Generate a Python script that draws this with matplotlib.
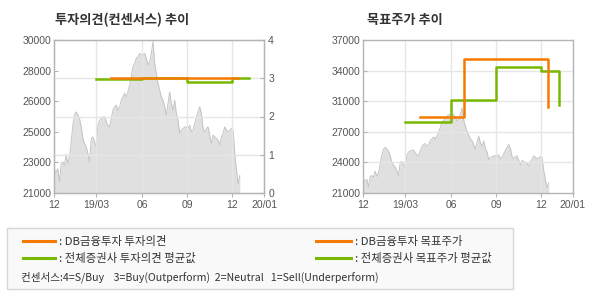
import numpy as np
import pandas as pd
import matplotlib
matplotlib.use("Agg")
import matplotlib.pyplot as plt
import matplotlib.dates as mdates
from matplotlib.patches import Rectangle
from matplotlib.lines import Line2D

plt.rcParams['font.family'] = ['Noto Sans CJK KR', 'DejaVu Sans']

# ---------------- data ----------------
price_start = "2018-12-06"
price_end = "2019-12-16"
price = [22340, 22240, 22430, 21650, 22730, 22830, 22630, 23280, 22730, 23120,
         24010, 24990, 25580, 25770, 25580, 25380, 24890, 24200, 23910, 23710,
         23320, 22830, 24200, 24300, 24010, 23710, 24990, 25280, 25380, 25480,
         25480, 25190, 24990, 24890, 25380, 25870, 26070, 26170, 25870, 26070,
         26460, 26660, 26860, 26660, 26950, 27350, 27840, 28430, 28620, 28920,
         29020, 29210, 29120, 29120, 29210, 28920, 28530, 28720, 29210, 29900,
         28620, 28030, 27450, 27050, 26660, 26460, 26070, 25580, 26270, 26950,
         26270, 25870, 26460, 25680, 25280, 24500, 24690, 24790, 24890, 24890,
         24790, 24990, 24600, 24690, 25090, 25480, 25770, 26070, 25680, 24790,
         24600, 24790, 24890, 24400, 23910, 24400, 24300, 24200, 24100, 23810,
         24300, 24500, 24890, 24690, 24600, 24690, 24790, 24690, 23320, 22340,
         21550, 22040]

opinion_avg_dates = ["2019-03-01", "2019-06-02", "2019-09-01", "2019-12-01", "2020-01-04"]
opinion_avg = [2.97, 3.0, 2.9, 3.0, 3.0]
opinion_db_dates = ["2019-03-30", "2019-12-13"]
opinion_db = [3.0, 3.0]

target_avg_dates = ["2019-02-28", "2019-06-01", "2019-09-01", "2019-12-01", "2020-01-05", "2020-01-05"]
target_avg = [28400, 30700, 34150, 33750, 33750, 30200]
target_db_dates = ["2019-03-30", "2019-06-27", "2019-12-14", "2019-12-14"]
target_db = [29000, 35000, 35000, 30000]

x_start, x_end = "2018-12-05", "2020-02-03"
xtick_dates = ["2018-12-05", "2019-03-01", "2019-06-01", "2019-09-01", "2019-12-01", "2020-02-03"]
xtick_labels = ["12", "19/03", "06", "09", "12", "20/01"]

left_price_ticks = [21000, 22800, 24600, 26400, 28200, 30000]
left_price_labels = ["21000", "23000", "25000", "26000", "28000", "30000"]
opinion_ticks = [0, 1, 2, 3, 4]
right_price_ticks = [21000, 24200, 27400, 30600, 33800, 37000]
right_price_labels = ["21000", "24000", "27000", "31000", "34000", "37000"]

legend_labels = [": DB금융투자 투자의견", ": 전체증권사 투자의견 평균값",
                 ": DB금융투자 목표주가", ": 전체증권사 목표주가 평균값"]
consensus_note = "컨센서스:4=S/Buy    3=Buy(Outperform)  2=Neutral   1=Sell(Underperform)"
titles = ["투자의견(컨센서스) 추이", "목표주가 추이"]

# ---------------- style ----------------
ORANGE = "#f77a00"
GREEN = "#78b800"
AREA = "#e0e0e0"
AREA_LINE = "#c4c4c4"
GRID = "#e6e6e6"
SPINE = "#b4b4b4"
TXT = "#555555"
TICKFONT = dict(family=['Liberation Sans', 'DejaVu Sans'], size=7.5, color=TXT)

price_dates = pd.date_range(price_start, price_end, periods=len(price))
to_dt = lambda l: pd.to_datetime(l)

fig = plt.figure(figsize=(5.9, 3.0), dpi=100)
fig.patch.set_facecolor("white")

def style_axes(ax):
    for s in ax.spines.values():
        s.set_color(SPINE)
        s.set_linewidth(1.0)
    ax.set_xlim(to_dt(x_start), to_dt(x_end))
    ax.set_xticks(to_dt(xtick_dates))
    ax.set_xticklabels(xtick_labels, **TICKFONT)
    ax.tick_params(axis='x', direction='out', length=3, color=SPINE, pad=2)
    ax.tick_params(axis='y', direction='in', length=3, color=SPINE, pad=2)
    for d in xtick_dates[1:-1]:
        ax.axvline(to_dt(d), color=GRID, lw=1.0, zorder=1.5)

# ---- left chart ----
axL = fig.add_axes([54/590, 1-193/300, 210/590, 153/300])
style_axes(axL)
axL.fill_between(price_dates, 21000, price, color=AREA, lw=0, zorder=1)
axL.plot(price_dates, price, color=AREA_LINE, lw=0.7, zorder=1.2)
axL.set_ylim(21000, 30000)
axL.set_yticks(left_price_ticks)
axL.set_yticklabels(left_price_labels, **TICKFONT)
axR = axL.twinx()
axR.set_ylim(0, 4)
axR.set_yticks(opinion_ticks)
axR.set_yticklabels([str(t) for t in opinion_ticks], **TICKFONT)
axR.tick_params(axis='y', direction='in', length=3, color=SPINE, pad=3)
for s in axR.spines.values():
    s.set_color(SPINE)
for t in opinion_ticks[1:-1]:
    axR.axhline(t, color=GRID, lw=1.0, zorder=0.5)
axR.plot(to_dt(opinion_avg_dates), opinion_avg, drawstyle='steps-post', color=GREEN, lw=1.8, zorder=3)
axR.plot(to_dt(opinion_db_dates), opinion_db, drawstyle='steps-post', color=ORANGE, lw=1.8, zorder=4)
fig.text(55/590, 1-20/300, titles[0], fontsize=9.5, fontweight='bold', color="#333333", va='center', ha='left')

# ---- right chart ----
ax2 = fig.add_axes([363/590, 1-193/300, 210/590, 153/300])
style_axes(ax2)
ax2.fill_between(price_dates, 21000, price, color=AREA, lw=0, zorder=1)
ax2.plot(price_dates, price, color=AREA_LINE, lw=0.7, zorder=1.2)
ax2.set_ylim(21000, 37000)
ax2.set_yticks(right_price_ticks)
ax2.set_yticklabels(right_price_labels, **TICKFONT)
for t in right_price_ticks[1:-1]:
    ax2.axhline(t, color=GRID, lw=1.0, zorder=1.5)
ax2.plot(to_dt(target_avg_dates), target_avg, drawstyle='steps-post', color=GREEN, lw=1.8, zorder=3)
ax2.plot(to_dt(target_db_dates), target_db, drawstyle='steps-post', color=ORANGE, lw=1.8, zorder=4)
fig.text(367/590, 1-20/300, titles[1], fontsize=9.5, fontweight='bold', color="#333333", va='center', ha='left')

# ---- legend box ----
W, H = 590, 300
fig.patches.append(Rectangle((7/W, 1-289/H), 506/W, 61/H, transform=fig.transFigure,
                             facecolor="#f9f9f9", edgecolor="#d6d6d6", lw=1.0))
rows_y = [241, 258]
cols = [(23, 55, 59), (316, 351, 355)]
colors = [ORANGE, GREEN]
k = 0
for ci, (x0, x1, xt) in enumerate(cols):
    for ri, yy in enumerate(rows_y):
        fig.lines.append(Line2D([x0/W, x1/W], [1-yy/H, 1-yy/H], transform=fig.transFigure,
                                color=colors[ri], lw=2.2))
        fig.text(xt/W, 1-yy/H, legend_labels[k], fontsize=8.2, color="#333333", va='center', ha='left')
        k += 1
fig.text(21/W, 1-277/H, consensus_note, fontsize=7.6, color="#333333", va='center', ha='left')

fig.savefig("out.png", dpi=100, facecolor="white")
